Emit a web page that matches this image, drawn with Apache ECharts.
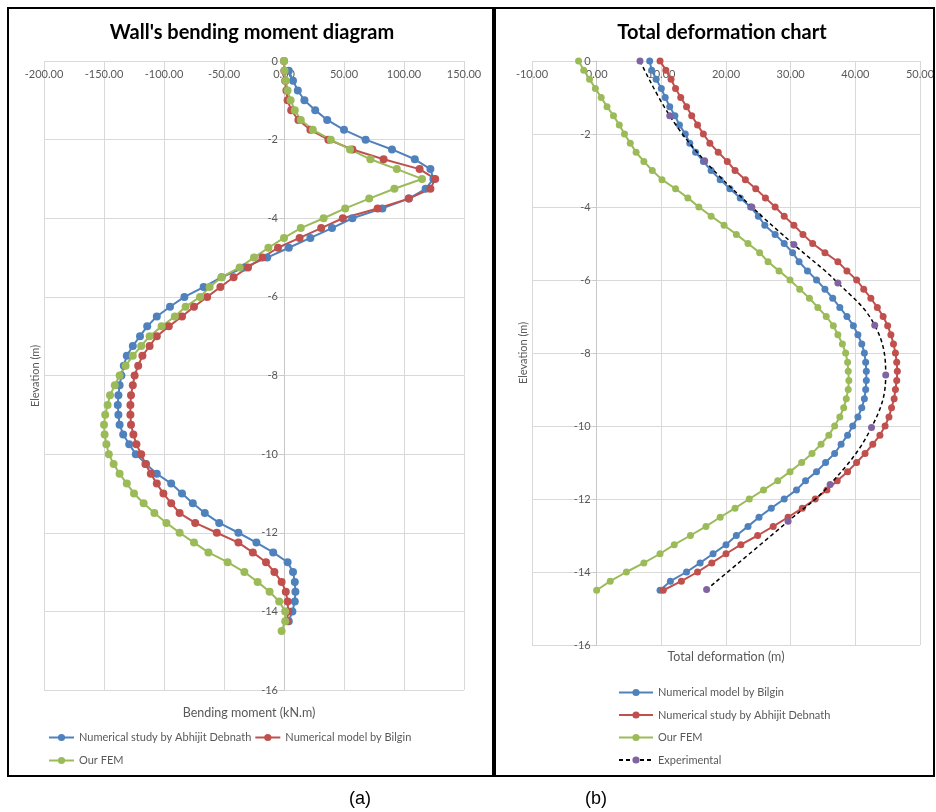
<!DOCTYPE html>
<html>
<head>
<meta charset="utf-8">
<script src="https://cdn.jsdelivr.net/npm/echarts@6/dist/echarts.min.js"></script>
<style>
html,body{margin:0;padding:0;background:#fff;}
#left{position:absolute;left:0;top:0;width:494px;height:812px;}
#right{position:absolute;left:494px;top:0;width:442px;height:812px;}
</style>
</head>
<body>
<div id="left"></div>
<div id="right"></div>
<script>
// ---------- DATA ----------
const elevations = [0,-0.25,-0.5,-0.75,-1,-1.25,-1.5,-1.75,-2,-2.25,-2.5,-2.75,-3,-3.25,-3.5,-3.75,-4,-4.25,-4.5,-4.75,
  -5,-5.25,-5.5,-5.75,-6,-6.25,-6.5,-6.75,-7,-7.25,-7.5,-7.75,-8,-8.25,-8.5,-8.75,-9,-9.25,-9.5,-9.75,
  -10,-10.25,-10.5,-10.75,-11,-11.25,-11.5,-11.75,-12,-12.25,-12.5,-12.75,-13,-13.25,-13.5,-13.75,-14,-14.25,-14.5];

// (a) Bending moment (kN.m)
const bmDebnath = [null,4,7.5,11.5,17,26,36,50,68,90,109,122,124.5,118,104,82,57,40,22,4,
  -14,-33,-52,-67,-83,-95,-106,-114,-120,-126,-131,-133.5,-135.5,-137,-138,-138.5,-138,-137,-134,-129,
  -123.5,-115,-106,-94,-85,-76,-66,-54,-38,-23,-9,3,7.5,9,9.5,9,7,4,null];
const bmBilgin = [0,0.3,1,2,3,6,12,22,37,57,83,113,126,122,104,78,49,31,13,-5,
  -18,-30,-42,-53,-64,-75,-85,-96,-106,-112,-118,-121.5,-124.5,-126,-127.5,-128,-128,-127.5,-125.5,-123,
  -119,-115.5,-111,-106,-100.5,-94,-87,-74,-56,-38,-26,-15,-8,-2,1.5,3,3.5,2.5,null];
const bmFEM = [0,0.5,1.5,3,5.5,9,14,24,39,55,72,94,115,92,71,51,33,14,0,-13,
  -25,-37,-52,-62,-70,-82,-91,-102,-112,-119,-126,-132,-137,-141,-145,-147,-149,-150,-149.5,-148,
  -146,-142,-137,-131,-125,-117,-108,-98,-87,-75,-63,-47,-33,-22,-12,-4,1,1,-2];

// (b) Total deformation
const defBilgin = [8.2,8.5,9.2,10,10.6,11.3,12.1,12.8,13.7,14.4,15.3,16.5,17.7,19.1,20.6,22.2,23.8,25,26,27.6,
  29,30.3,31.3,32.6,34,35.3,36.5,37.6,38.7,39.7,40.4,41,41.4,41.6,41.7,41.7,41.6,41.4,41,40.4,
  39.6,38.8,37.8,36.8,35.4,34,32.3,30.9,29,27,25.1,23.4,21.6,20,18,16,13.9,11.4,9.8];
const defDebnath = [9.8,10.7,11.5,12.2,13,13.9,14.7,15.6,16.5,17.5,18.8,20.2,21.4,23,24.6,26.1,27.6,29,30.5,31.9,
  33.4,35.3,37.3,38.7,40.2,41.3,42.4,43.4,44.3,45,45.5,45.9,46.2,46.4,46.5,46.4,46.2,46,45.6,45.2,
  44.6,43.8,42.7,41.5,40.2,38.8,37.2,35.6,33.8,31.8,29.6,27.3,24.9,22.3,20,17.8,15.6,13.1,10.3];
const defFEM = [-2.8,-2,-1.1,-0.2,0.7,1.6,2.6,3.5,4.3,5.2,6.1,7.3,8.6,10.1,12.2,14.1,15.8,17.7,19.7,21.6,
  23.4,25.2,26.5,28.2,29.9,31.4,32.9,34.2,35.5,36.6,37.3,38,38.5,38.8,38.9,39,38.9,38.6,38.2,37.6,
  36.8,35.9,34.7,33.3,31.7,29.9,28,25.8,23.6,21.4,19.1,16.9,14.5,12,9.8,7.3,4.6,2.1,0];
const expElevations = [0,-1.5,-2.73,-4,-5.03,-6.08,-7.24,-8.6,-10.04,-11.6,-12.61,-14.48];
const expDeformation = [6.7,11.3,16.7,24,30.5,37.3,43,44.7,42.5,36.1,29.6,17];

const namesA = ['Numerical study by Abhijit Debnath','Numerical model by Bilgin','Our FEM'];
const namesB = ['Numerical model by Bilgin','Numerical study by Abhijit Debnath','Our FEM','Experimental'];
const titleA = "Wall's bending moment diagram";
const titleB = 'Total deformation chart';

// ---------- HELPERS ----------
const C = {blue:'#4F81BD', red:'#C0504D', green:'#9BBB59', purple:'#8064A2'};
const FONT = 'Lato, "Open Sans", sans-serif';
const GRID = '#d9d9d9';
const TXT = '#595959';
function pairs(xs, ys){
  const out = [];
  for (let i=0;i<ys.length;i++){ if (xs[i]!=null && ys[i]!=null) out.push([xs[i], ys[i]]); }
  return out;
}
function lineSeries(name, vals, elev, color, size){
  return {type:'line', name, data:pairs(vals, elev), symbol:'circle', symbolSize:size,
    showSymbol:true, lineStyle:{color, width:2}, itemStyle:{color}, z:2};
}
function txt(x,y,text,size,opts){
  opts = opts||{};
  return {type:'text', x, y, rotation:opts.rot||0, z:10,
    style:{text, fontSize:size, fontFamily:opts.family||FONT, fontWeight:opts.weight||'normal',
      fill:opts.fill||TXT, align:'center', verticalAlign:'middle', textAlign:'center', textVerticalAlign:'middle'}};
}
// y axis drawn at x = 0 of the horizontal scale (shifted into the grid)
function axes(xmin,xmax,xint,gridLeft,gridWidth){
  const zeroOffset = -gridWidth * (0 - xmin) / (xmax - xmin);
  return {
    xAxis:{type:'value', position:'top', min:xmin, max:xmax, interval:xint,
      axisLine:{show:false, onZero:false}, axisTick:{show:false},
      axisLabel:{inside:true, margin:8, color:TXT, fontSize:11, fontFamily:FONT, formatter:v=>v.toFixed(2)},
      splitLine:{show:true, lineStyle:{color:GRID, width:1}}},
    yAxis:{type:'value', min:-16, max:0, interval:2, position:'left', offset:zeroOffset,
      axisLine:{show:true, onZero:false, lineStyle:{color:'#c8c8c8', width:1}},
      axisTick:{show:true, length:4, lineStyle:{color:'#c8c8c8'}},
      axisLabel:{margin:6, color:TXT, fontSize:11, fontFamily:FONT},
      splitLine:{show:true, lineStyle:{color:GRID, width:1}}}
  };
}
const legendText = {color:TXT, fontSize:11, fontFamily:FONT};

// ---------- CHART (a) ----------
const chartA = echarts.init(document.getElementById('left'), null, {renderer:'canvas'});
const axA = axes(-200,150,50,44,420);
chartA.setOption({
  animation:false,
  grid:{left:44, right:494-464, top:61, bottom:812-690, outerBoundsMode:'none'},
  xAxis:axA.xAxis, yAxis:axA.yAxis,
  legend:[
    {data:[namesA[0], namesA[1]], left:43, top:727, itemWidth:25, itemHeight:9, itemGap:3,
     textStyle:legendText, selectedMode:false},
    {data:[namesA[2]], left:43, top:750, itemWidth:25, itemHeight:9, textStyle:legendText, selectedMode:false}
  ],
  series:[
    lineSeries(namesA[0], bmDebnath, elevations, C.blue, 8),
    lineSeries(namesA[1], bmBilgin, elevations, C.red, 8),
    lineSeries(namesA[2], bmFEM, elevations, C.green, 8)
  ],
  graphic:[
    {type:'rect', shape:{x:8, y:8, width:485, height:768}, style:{fill:'none', stroke:'#000', lineWidth:2}, z:10},
    txt(252, 33, titleA, 20, {weight:'bold', fill:'#000'}),
    txt(35, 376, 'Elevation (m)', 11, {rot:Math.PI/2}),
    txt(249, 713, 'Bending moment (kN.m)', 12.5),
    txt(360, 799, '(a)', 18, {family:'"Liberation Sans", Arial, sans-serif', fill:'#000'})
  ]
});

// ---------- CHART (b) ----------
const chartB = echarts.init(document.getElementById('right'), null, {renderer:'canvas'});
const axB = axes(-10,50,10,38,388);
const expSeries = {type:'line', name:namesB[3], data:pairs(expDeformation, expElevations), smooth:0.4,
  symbol:'circle', symbolSize:7, lineStyle:{color:'#000', width:1.5, type:[4,3]},
  itemStyle:{color:C.purple}, z:3};
chartB.setOption({
  animation:false,
  grid:{left:532-494, right:936-920, top:61, bottom:812-645, outerBoundsMode:'none'},
  xAxis:axB.xAxis, yAxis:axB.yAxis,
  legend:{data:namesB, orient:'vertical', left:119, top:682, itemWidth:34, itemHeight:9, itemGap:11.5,
    textStyle:legendText, selectedMode:false},
  series:[
    lineSeries(namesB[0], defBilgin, elevations, C.blue, 7),
    lineSeries(namesB[1], defDebnath, elevations, C.red, 7),
    lineSeries(namesB[2], defFEM, elevations, C.green, 7),
    expSeries
  ],
  graphic:[
    {type:'rect', shape:{x:1, y:8, width:439, height:768}, style:{fill:'none', stroke:'#000', lineWidth:2}, z:10},
    txt(228, 33, titleB, 20, {weight:'bold', fill:'#000'}),
    txt(29, 353, 'Elevation (m)', 11, {rot:Math.PI/2}),
    txt(232, 657, 'Total deformation (m)', 12.5),
    txt(102, 799, '(b)', 18, {family:'"Liberation Sans", Arial, sans-serif', fill:'#000'})
  ]
});
</script>
</body>
</html>
